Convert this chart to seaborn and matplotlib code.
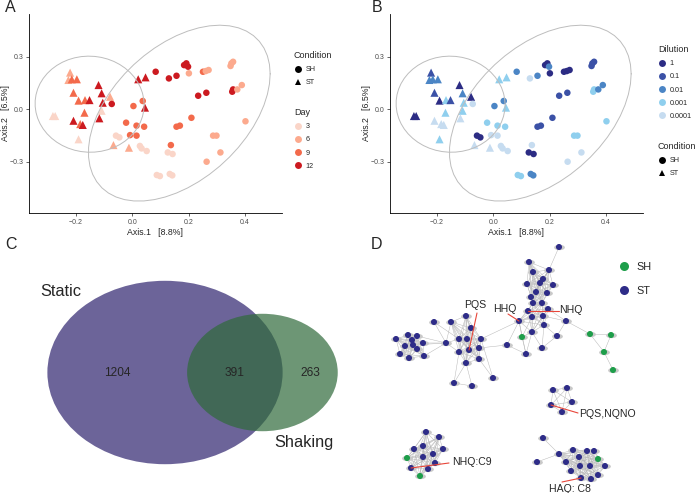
import numpy as np
import pandas as pd
import matplotlib
matplotlib.use('Agg')
import matplotlib.pyplot as plt
import seaborn as sns
from matplotlib.lines import Line2D
from matplotlib.path import Path
from matplotlib.patches import Ellipse
from matplotlib.collections import LineCollection

sns.set_style('white')
plt.rcParams['font.family'] = ['Liberation Sans', 'DejaVu Sans']

# ---------------- A / B : PCoA ordination ----------------
st_axis1 = [-0.221, -0.227, -0.215, -0.197, -0.120, -0.109, -0.209, -0.191, -0.168, -0.152,
            -0.105, -0.079, -0.109, -0.170, -0.209, -0.185, -0.176, -0.117, -0.282, -0.274,
            -0.191, -0.067, -0.012, 0.021, 0.047, 0.045]
st_axis2 = [0.208, 0.166, 0.170, 0.170, 0.137, 0.090, 0.093, 0.048, 0.051, 0.051,
            0.036, 0.070, -0.010, -0.021, -0.067, -0.086, -0.091, -0.053, -0.040, -0.040,
            -0.173, -0.206, -0.221, 0.170, 0.181, 0.008]
st_day = [6, 6, 9, 9, 12, 12, 9, 9, 9, 12, 12, 6, 3, 9, 12, 9, 12, 12, 3, 3, 3, 6, 6, 12, 12, 12]
st_dilution = ['0.1', '0.01', '0.01', '0.01', '1', '0.01', '0.1', '1', '0.001', '0.1',
               '0.001', '1', '0.001', '0.001', '0.0001', '0.0001', '0.0001', '0.0001', '1', '1',
               '0.001', '0.0001', '0.0001', '0.001', '0.001', '0.001']

sh_axis1 = [-0.073, 0.004, 0.037, -0.022, 0.015, 0.042, -0.008, 0.015, -0.058, -0.046,
            0.027, 0.033, 0.051, 0.083, 0.130, 0.157, 0.184, 0.192, 0.198, 0.201,
            0.251, 0.261, 0.271, 0.234, 0.263, 0.210, 0.157, 0.169, 0.137, 0.126,
            0.143, 0.087, 0.098, 0.133, 0.142, 0.264, 0.287, 0.299, 0.313, 0.352,
            0.358, 0.349, 0.358, 0.355, 0.373, 0.389, 0.402]
sh_axis2 = [0.029, 0.017, 0.046, -0.078, -0.095, -0.101, -0.149, -0.152, -0.152, -0.162,
            -0.211, -0.225, -0.240, 0.213, 0.175, 0.190, 0.251, 0.261, 0.242, 0.204,
            0.213, 0.217, 0.223, 0.076, 0.093, -0.050, -0.101, -0.095, -0.206, -0.248,
            -0.257, -0.377, -0.383, -0.371, -0.379, -0.301, -0.152, -0.152, -0.248, 0.261,
            0.270, 0.246, 0.112, 0.099, 0.112, 0.137, -0.070]
sh_day = [12, 9, 9, 9, 9, 9, 9, 9, 3, 3, 3, 3, 3, 12, 12, 12, 12, 12, 12, 6,
          9, 6, 6, 12, 12, 9, 9, 9, 9, 3, 3, 3, 3, 3, 3, 6, 6, 6, 6, 6,
          6, 6, 12, 12, 6, 6, 6]
sh_dilution = ['0.0001', '0.01', '0.01', '0.001', '0.001', '0.001', '0.0001', '0.0001', '1', '1',
               '0.0001', '0.0001', '0.0001', '0.01', '0.0001', '0.01', '1', '1', '0.01', '1',
               '1', '1', '1', '0.1', '0.1', '0.1', '0.1', '0.1', '0.0001', '1',
               '1', '0.001', '0.001', '0.01', '0.01', '0.0001', '0.001', '0.001', '0.0001', '0.1',
               '0.1', '0.1', '0.001', '0.001', '0.01', '0.01', '0.001']

day_levels = ['3', '6', '9', '12']
day_colors = ['#fad5c8', '#fcaa8e', '#f36a4b', '#cc1a20']
dil_levels = ['1', '0.1', '0.01', '0.001', '0.0001']
dil_colors = ['#2c2c84', '#3b51a6', '#4b85c5', '#8fcfee', '#c6dcf0']
cond_levels = ['SH', 'ST']

pcoa = pd.DataFrame({
    'Axis.1': st_axis1 + sh_axis1,
    'Axis.2': st_axis2 + sh_axis2,
    'Condition': ['ST'] * len(st_axis1) + ['SH'] * len(sh_axis1),
    'Day': [str(d) for d in st_day + sh_day],
    'Dilution': st_dilution + sh_dilution,
})

# ---------------- C : Venn counts ----------------
static_only, shared, shaking_only = 1204, 391, 263

# ---------------- D : molecular network ----------------
node_name = ['T1', 'T2', 'T3', 'T4', 'T5', 'T6', 'T7', 'T8', 'T9', 'T10', 'T11', 'T12', 'T13',
             'T14', 'T15', 'T16', 'T17', 'T18', 'T19', 'T20', 'T21', 'T22', 'T23', 'T24', 'T25', 'T26',
             'P1', 'P2', 'P3', 'P4', 'P5', 'P6', 'P7', 'P8', 'P9', 'P10', 'P11', 'P12', 'P13',
             'P14', 'P15', 'P16',
             'L1', 'L2', 'L3', 'L4', 'L5', 'L6', 'L7', 'L8', 'L9', 'L10', 'L11',
             'G1', 'G2', 'G3', 'G4',
             'Q1', 'Q2', 'Q3', 'Q4', 'Q5',
             'N1', 'N2', 'N3', 'N4', 'N5', 'N6', 'N7', 'N8', 'N9', 'N10', 'N11', 'N12',
             'H1', 'H2', 'H3', 'H4', 'H5', 'H6', 'H7', 'H8', 'H9', 'H10', 'H11', 'H12', 'H13',
             'H14', 'H15', 'H16']
node_x = [210, 180, 200, 184, 194, 178, 191, 204, 187, 198, 182, 193, 184,
          199, 179, 170, 194, 183, 217, 195, 173, 183, 208, 158, 193, 177,
          117, 102, 85, 122, 110, 118, 132, 97, 120, 110, 130, 130, 117,
          144, 105, 123,
          59, 68, 47, 74, 56, 64, 68, 51, 60, 75, 63,
          241, 262, 255, 264,
          204, 218, 223, 202, 213,
          77, 90, 65, 74, 84, 94, 58, 74, 86, 62, 79, 71,
          194, 210, 188, 224, 238, 245, 230, 249, 256, 241, 231, 222, 249,
          232, 242, 217]
node_y = [-3, 12, 20, 22, 29, 34, 33, 35, 42, 43, 47, 53, 53,
          59, 61, 71, 66, 67, 71, 75, 87, 82, 86, 95, 98, 104,
          66, 72, 72, 78, 89, 89, 89, 93, 100, 102, 98, 109, 113,
          128, 133, 136,
          85, 86, 89, 93, 96, 95, 99, 104, 108, 106, 90,
          84, 85, 102, 120,
          140, 138, 152, 155, 162,
          182, 187, 199, 196, 204, 199, 208, 207, 213, 218, 219, 226,
          188, 204, 212, 200, 201, 201, 207, 209, 216, 216, 216, 221, 225,
          228, 229, 212]
sh_nodes = ['T21', 'G1', 'G2', 'G3', 'G4', 'N7', 'N12', 'H8']

cliques = [
    ['T2', 'T3', 'T4', 'T5', 'T6', 'T7', 'T8', 'T9', 'T10', 'T11', 'T12', 'T13'],
    ['T12', 'T13', 'T14', 'T15', 'T16', 'T17', 'T18', 'T20', 'T22'],
    ['L1', 'L2', 'L3', 'L4', 'L5', 'L6', 'L7', 'L8', 'L9', 'L10', 'L11'],
    ['P1', 'P2', 'P4', 'P5', 'P6', 'P7', 'P9', 'P10', 'P11', 'P12', 'P13'],
    ['Q1', 'Q2', 'Q3', 'Q4', 'Q5'],
    ['N1', 'N2', 'N3', 'N4', 'N5', 'N6', 'N7', 'N8', 'N9', 'N10', 'N11', 'N12'],
    ['H2', 'H4', 'H5', 'H6', 'H7', 'H8', 'H9', 'H10', 'H11', 'H12', 'H13', 'H14', 'H15', 'H16'],
]
extra_edges = [('T1', 'T3'), ('T16', 'T21'), ('T16', 'T24'), ('T16', 'T26'), ('T21', 'T26'),
               ('T21', 'T22'), ('T21', 'T18'), ('T22', 'T25'), ('T20', 'T25'), ('T20', 'T23'),
               ('T17', 'T19'), ('T14', 'T19'), ('T19', 'T23'), ('T23', 'T25'), ('T24', 'T26'),
               ('T22', 'T26'), ('T19', 'G1'), ('G1', 'G2'), ('G1', 'G3'), ('G2', 'G3'),
               ('G3', 'G4'), ('P7', 'T16'), ('P11', 'T24'), ('P8', 'L4'), ('P8', 'L10'),
               ('P8', 'L2'), ('P8', 'L6'), ('P8', 'P2'), ('P8', 'P5'), ('P8', 'P10'),
               ('P3', 'P8'), ('P3', 'P5'), ('P12', 'P14'), ('P7', 'P14'), ('P13', 'P15'),
               ('P13', 'P16'), ('P15', 'P16'), ('P10', 'P15'), ('H1', 'H2'), ('H3', 'H2')]

# label, node, text x, text y, line start x, line start y, text alignment
annotations = [('PQS', 'P9', 126, 55, 128, 63, 'center'),
               ('HHQ', 'T16', 156, 59, 159, 64, 'center'),
               ('NHQ', 'T15', 210, 60, 210, 61, 'left'),
               ('PQS,NQNO', 'Q4', 230, 164, 229, 163, 'left'),
               ('NHQ:C9', 'N10', 103, 212, 100, 213, 'left'),
               ('HAQ: C8', 'H14', 200, 239, 213, 232, 'left')]

W, H = 698, 493
fig = plt.figure(figsize=(W / 100, H / 100), dpi=100)


def fig_rect(x0, y0, x1, y1):
    return [x0 / W, 1 - y1 / H, (x1 - x0) / W, (y1 - y0) / H]


def trob(pts, nu=5, tol=1e-6):
    # multivariate t robust location/scatter (as in MASS::cov.trob)
    n, p = pts.shape
    loc = pts.mean(axis=0)
    w = np.ones(n)
    for _ in range(200):
        w0 = w
        X = pts - loc
        S = (w[:, None] * X).T @ X / w.sum()
        Q = np.einsum('ij,jk,ik->i', X, np.linalg.inv(S), X)
        w = (nu + p) / (nu + Q)
        loc = (w[:, None] * pts).sum(axis=0) / w.sum()
        if np.all(np.abs(w - w0) < tol):
            break
    X = pts - loc
    cov = (w[:, None] * X).T @ X / n
    return loc, cov


def stat_ellipse(pts, level=0.95, segments=51):
    loc, cov = trob(pts)
    dfd = len(pts) - 1
    fq = dfd / 2 * ((1 - level) ** (-2 / dfd) - 1)   # F(2, dfd) quantile
    radius = np.sqrt(2 * fq)
    ang = np.linspace(0, 2 * np.pi, segments + 1)
    circle = np.column_stack([np.cos(ang), np.sin(ang)])
    ell = loc + radius * circle @ np.linalg.cholesky(cov).T
    return ell[:, 0], ell[:, 1]


def pcoa_panel(rect, hue, levels, colors):
    ax = fig.add_axes(rect)
    sns.scatterplot(data=pcoa, x='Axis.1', y='Axis.2', hue=hue, hue_order=levels,
                    palette=colors, style='Condition', markers={'SH': 'o', 'ST': '^'},
                    size='Condition', sizes={'SH': 22, 'ST': 34}, linewidth=0,
                    legend=False, ax=ax)
    for cond in ['ST', 'SH']:
        ex, ey = stat_ellipse(pcoa.loc[pcoa['Condition'] == cond, ['Axis.1', 'Axis.2']].to_numpy())
        ax.plot(ex, ey, color='#bdbdbd', lw=0.7)
    ax.set_xlim(-0.367, 0.53)
    ax.set_ylim(-0.594, 0.543)
    ax.set_xticks([-0.2, 0.0, 0.2, 0.4])
    ax.set_xticklabels(['\u22120.2', '0.0', '0.2', '0.4'])
    ax.set_yticks([-0.3, 0.0, 0.3])
    ax.set_yticklabels(['\u22120.3', '0.0', '0.3'])
    ax.tick_params(length=2.5, width=0.5, labelsize=5, labelcolor='#4d4d4d', pad=1.5,
                   bottom=True, left=True)
    for s in ['top', 'right']:
        ax.spines[s].set_visible(False)
    for s in ['left', 'bottom']:
        ax.spines[s].set_linewidth(0.6)
        ax.spines[s].set_color('black')
    ax.set_xlabel('Axis.1   [8.8%]', fontsize=6.3, labelpad=2)
    ax.set_ylabel('Axis.2   [6.5%]', fontsize=6.3, va='center')
    ax.yaxis.set_label_coords(-0.092, 0.5)
    return ax


def key_legend(title, labels, colors, markers, x, y):
    handles = [Line2D([], [], ls='', marker=m, color=c, markersize=5, markeredgewidth=0)
               for c, m in zip(colors, markers)]
    leg = fig.legend(handles, labels, title=title, loc='upper left',
                     bbox_to_anchor=(x / W, 1 - y / H), frameon=False, fontsize=5.2,
                     title_fontsize=6.5, alignment='left', handlelength=1.0,
                     handletextpad=0.6, labelspacing=0.85, borderpad=0, borderaxespad=0)
    return leg


# Panel A
pcoa_panel(fig_rect(29, 14, 281.5, 213), 'Day', day_levels, day_colors)
key_legend('Condition', cond_levels, ['black', 'black'], ['o', '^'], 294, 51)
key_legend('Day', day_levels, day_colors, ['o'] * 4, 294, 108)

# Panel B
pcoa_panel(fig_rect(390, 14, 642.5, 213), 'Dilution', dil_levels, dil_colors)
key_legend('Dilution', dil_levels, dil_colors, ['o'] * 5, 658, 45)
key_legend('Condition', cond_levels, ['black', 'black'], ['o', '^'], 658, 142)

# Panel C : area-proportional Venn
axC = fig.add_axes(fig_rect(0, 243, 349, 493))
n_static = static_only + shared
n_shaking = shaking_only + shared
r1 = np.sqrt(n_static / np.pi)
r2 = np.sqrt(n_shaking / np.pi)


def lens_area(d):
    a1 = r1 ** 2 * np.arccos((d ** 2 + r1 ** 2 - r2 ** 2) / (2 * d * r1))
    a2 = r2 ** 2 * np.arccos((d ** 2 + r2 ** 2 - r1 ** 2) / (2 * d * r2))
    a3 = 0.5 * np.sqrt((-d + r1 + r2) * (d + r1 - r2) * (d - r1 + r2) * (d + r1 + r2))
    return a1 + a2 - a3


lo, hi = r1 - r2 + 1e-9, r1 + r2 - 1e-9
for _ in range(80):
    mid = (lo + hi) / 2
    if lens_area(mid) > shared:
        lo = mid
    else:
        hi = mid
d = (lo + hi) / 2

axC.add_patch(Ellipse((0, 0), 2 * r1, 2 * r1, facecolor='#6c6499', edgecolor='none'))
axC.add_patch(Ellipse((d, 0), 2 * r2, 2 * r2, facecolor='#2f6a3a', alpha=0.7, edgecolor='none'))
axC.text((-r1 + d - r2) / 2, 0, str(static_only), ha='center', va='center', fontsize=8.6)
axC.text((d - r2 + r1) / 2, 0, str(shared), ha='center', va='center', fontsize=8.6)
axC.text((r1 + d + r2) / 2, 0, str(shaking_only), ha='center', va='center', fontsize=8.6)
axC.text(-19.9, 20.0, 'Static', ha='center', va='center', fontsize=11.8)
axC.text(26.6, -17.3, 'Shaking', ha='center', va='center', fontsize=11.8)
axC.set_xlim(-165 / 5.22, 184 / 5.22)
axC.set_ylim(-120.5 / 4.07, 129.5 / 4.07)
axC.axis('off')

# Panel D : network
axD = fig.add_axes(fig_rect(349, 244, 698, 493))
nodes = pd.DataFrame({'name': node_name, 'x': node_x, 'y': node_y})
nodes['group'] = np.where(nodes['name'].isin(sh_nodes), 'SH', 'ST')
pos = dict(zip(nodes['name'], zip(nodes['x'], nodes['y'])))

edges = list(extra_edges)
for grp in cliques:
    for i in range(len(grp)):
        for j in range(i + 1, len(grp)):
            edges.append((grp[i], grp[j]))
axD.add_collection(LineCollection([[pos[a], pos[b]] for a, b in edges],
                                  colors='#b8b8b8', linewidths=0.35, zorder=1))

t = np.linspace(0, 2 * np.pi, 41)
halo = Path(np.column_stack([np.cos(t), 0.5 * np.sin(t)]))
sns.scatterplot(data=nodes, x='x', y='y', marker=halo, s=60, color='#c9c9c9',
                linewidth=0, legend=False, ax=axD, zorder=2)
sns.scatterplot(data=nodes, x='x', y='y', hue='group', palette={'SH': '#1e9e4a', 'ST': '#2e2c88'},
                s=19, linewidth=0, legend=False, ax=axD, zorder=3)

for label, node, tx, ty, lx, ly, ha in annotations:
    nx_, ny_ = pos[node]
    axD.plot([lx, nx_], [ly, ny_], color='#e8463a', lw=0.8, zorder=4)
    axD.text(tx, ty, label, ha=ha, va='center', fontsize=7.6, zorder=5)

axD.set_xlim(0, 349)
axD.set_ylim(243, -6)
axD.axis('off')
net_handles = [Line2D([], [], ls='', marker='o', color='#1e9e4a', markersize=6.5, markeredgewidth=0),
               Line2D([], [], ls='', marker='o', color='#2e2c88', markersize=6.5, markeredgewidth=0)]
fig.legend(net_handles, ['SH', 'ST'], loc='upper left', bbox_to_anchor=(619 / W, 1 - 262 / H),
           frameon=False, fontsize=7.8, handlelength=1.0, handletextpad=0.6,
           labelspacing=1.25, borderpad=0, borderaxespad=0)

# panel letters
for letter, x, y in [('A', 10, 7), ('B', 377, 7), ('C', 10.5, 244), ('D', 376, 244)]:
    fig.text(x / W, 1 - y / H, letter, ha='center', va='center', fontsize=11.5)

fig.savefig('out.png', dpi=100)
